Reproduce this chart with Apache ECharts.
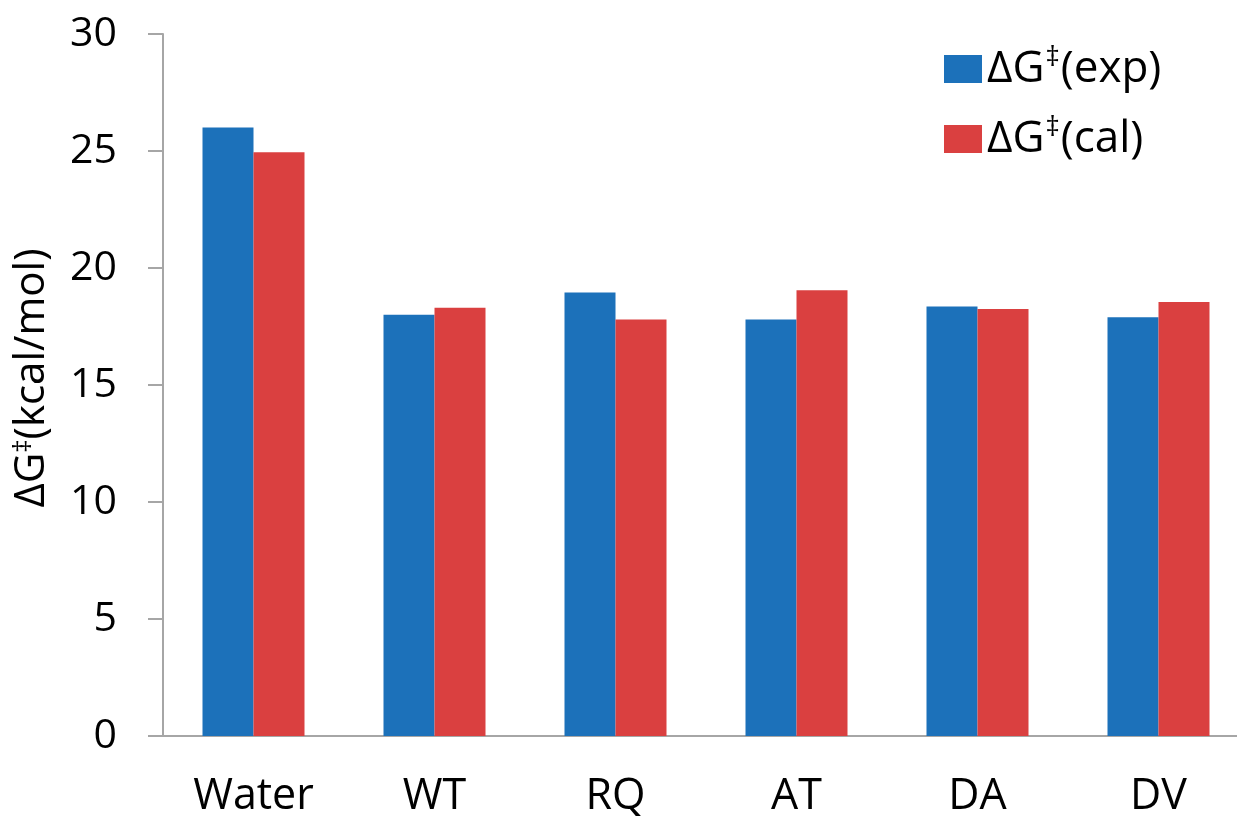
<!DOCTYPE html>
<html><head><meta charset="utf-8">
<script src="https://cdn.jsdelivr.net/npm/echarts@6/dist/echarts.min.js"></script>
<style>html,body{margin:0;padding:0;background:#fff}#c{width:1237px;height:819px}</style>
</head><body><div id="c"></div>
<script>
const categories = ['Water', 'WT', 'RQ', 'AT', 'DA', 'DV'];
const expValues = [26.0, 18.0, 18.95, 17.8, 18.35, 17.9];
const calValues = [24.95, 18.3, 17.8, 19.05, 18.25, 18.55];
const seriesNames = ['ΔG‡(exp)', 'ΔG‡(cal)'];
const yTicks = { min: 0, max: 30, interval: 5 };

const FONT = '"Open Sans", "Noto Sans", sans-serif';
const chart = echarts.init(document.getElementById('c'), null, { renderer: 'canvas' });
chart.setOption({
  animation: false,
  backgroundColor: '#ffffff',
  grid: { left: 163, top: 34, width: 1086, height: 702, containLabel: false, outerBoundsMode: 'none' },
  legend: {
    orient: 'vertical', left: 939, top: 39,
    itemWidth: 38, itemHeight: 28, itemGap: 20,
    icon: 'rect',
    data: seriesNames,
    formatter: function (n) {
      const m = n.match(/^ΔG‡(.*)$/);
      return '{a|ΔG}{s|‡}{a|' + m[1] + '}';
    },
    textStyle: {
      color: '#000', fontFamily: FONT, fontSize: 44, lineHeight: 50,
      rich: {
        a: { fontFamily: FONT, fontSize: 44, color: '#000', lineHeight: 50 },
        s: { fontFamily: FONT, fontSize: 28, color: '#000', verticalAlign: 'top', lineHeight: 30, padding: [0, 1, 0, 1] }
      }
    }
  },
  xAxis: {
    type: 'category', data: categories,
    axisLine: { show: true, lineStyle: { color: '#a6a6a6', width: 2 } },
    axisTick: { show: false },
    axisLabel: { color: '#000', fontFamily: FONT, fontSize: 43, margin: 39 }
  },
  yAxis: {
    type: 'value', min: yTicks.min, max: yTicks.max, interval: yTicks.interval,
    name: '{a|ΔG}{s|‡}{a|(kcal/mol)}',
    nameLocation: 'middle', nameGap: 110, nameRotate: 90,
    nameTextStyle: {
      color: '#000', fontFamily: FONT, fontSize: 42, padding: [0, 0, 0, 14],
      rich: {
        a: { fontFamily: FONT, fontSize: 42, color: '#000' },
        s: { fontFamily: FONT, fontSize: 26, color: '#000', verticalAlign: 'top', padding: [0, 0, 14, 0] }
      }
    },
    axisLine: { show: true, lineStyle: { color: '#a6a6a6', width: 2 } },
    axisTick: { show: true, inside: false, length: 15, lineStyle: { color: '#a6a6a6', width: 2 } },
    splitLine: { show: false },
    axisLabel: { color: '#000', fontFamily: FONT, fontSize: 41, margin: 46 }
  },
  series: [
    { name: seriesNames[0], type: 'bar', data: expValues, barWidth: 51, barGap: '0%',
      itemStyle: { color: '#1c71ba' } },
    { name: seriesNames[1], type: 'bar', data: calValues, barWidth: 51, barGap: '0%',
      itemStyle: { color: '#da4040' } }
  ]
});
</script></body></html>
